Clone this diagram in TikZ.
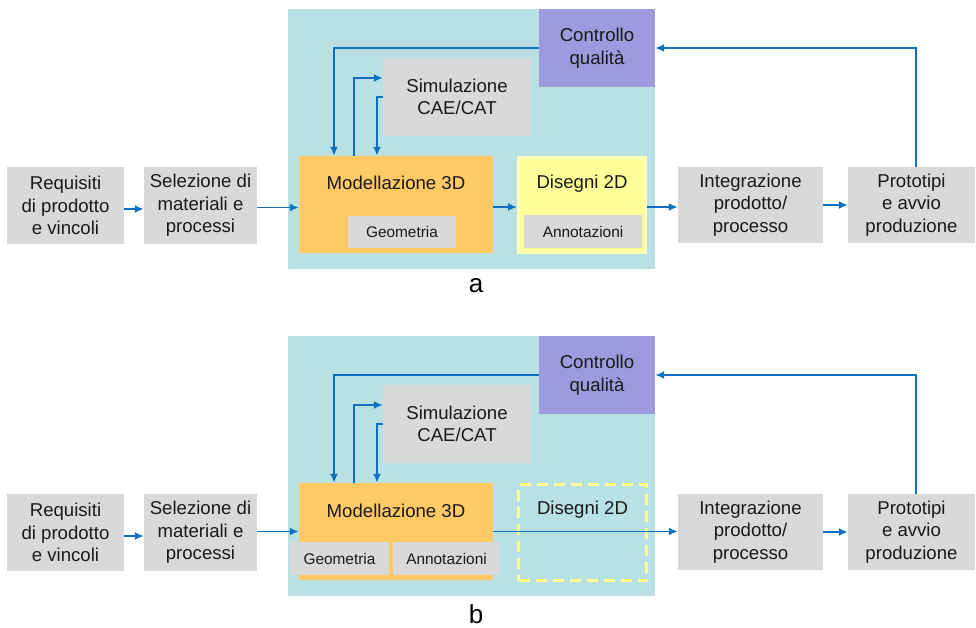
\documentclass[tikz,border=0pt]{standalone}
\usepackage{fontspec}
\setmainfont{Liberation Sans}
\usetikzlibrary{arrows.meta}

\definecolor{bgteal}{HTML}{B9E0E3}
\definecolor{boxgray}{HTML}{D9D9D9}
\definecolor{modorange}{HTML}{FFC966}
\definecolor{ctrlpurple}{HTML}{9E9ADE}
\definecolor{disyellow}{HTML}{FFFF99}
\definecolor{disedge}{HTML}{FFFFB8}
\definecolor{dashyellow}{HTML}{FFFF8C}
\definecolor{arrowblue}{HTML}{0F70C0}
\definecolor{textblack}{HTML}{1A1A1A}

\tikzset{
  grbox/.style={fill=boxgray, inner sep=0pt, align=center, text=textblack,
    font=\fontsize{18.6}{22.5}\selectfont},
  subbox/.style={fill=boxgray, inner sep=0pt, text=textblack,
    font=\fontsize{15.4}{18}\selectfont},
  boxtext/.style={inner sep=0pt, text=textblack, font=\fontsize{18.6}{22.5}\selectfont},
  flow/.style={draw=arrowblue, line width=1.8pt, -{Latex[length=9pt,width=8pt]}}
}

\begin{document}
\begin{tikzpicture}[x=1pt,y=-1pt]
\useasboundingbox (0,0) rectangle (976,628);

% panel a
\begin{scope}
  \fill[bgteal] (288,9) rectangle (655,269);
  \node[grbox, minimum width=117, minimum height=77] (reqa) at (65.5,205.5) {Requisiti\\di prodotto\\e vincoli};
  \node[grbox, minimum width=113, minimum height=77] (sela) at (200.5,205.5) {Selezione di\\materiali e\\processi};
  \node[fill=modorange, minimum width=194, minimum height=97, inner sep=0pt] (moda) at (396,204.5) {};
  \node[boxtext] (modta) at ([yshift=-27]moda.north) {Modellazione 3D};
  \node[subbox, minimum width=108, minimum height=32] (geoa) at (402,232) {Geometria};
  \node[fill=disyellow, draw=disedge, line width=3pt, minimum width=127, minimum height=94, inner sep=0pt] (disa) at (582,205) {};
  \node[boxtext] (densa) at ([yshift=-27]disa.north) {Disegni 2D};
  \node[subbox, minimum width=118, minimum height=33] (anna) at (583,231.5) {Annotazioni};
  \node[grbox, minimum width=148, minimum height=78] (sima) at (457,97) {Simulazione\\CAE/CAT};
  \node[grbox, fill=ctrlpurple, minimum width=116, minimum height=78] (ctrla) at (597,48) {Controllo\\qualità};
  \node[grbox, minimum width=145, minimum height=76] (inta) at (750.5,205) {Integrazione\\prodotto/\\processo};
  \node[grbox, minimum width=127, minimum height=76] (proa) at (911.5,205) {Prototipi\\e avvio\\produzione};

  \draw[flow] ([yshift=-3.5]reqa.east) -- ([yshift=-3.5]sela.west);
  \draw[flow] ([yshift=-2]sela.east) -- ([yshift=-2]sela.east -| moda.west);
  \draw[flow] ([yshift=-2.5]moda.east) -- ([yshift=-2.5]moda.east -| disa.west);
  \draw[flow] ([yshift=-2]disa.east) -- ([yshift=-2]disa.east -| inta.west);
  \draw[flow] (inta.east) -- (proa.west);
  \draw[flow] ([xshift=4.5]proa.north) |- (ctrla.east);
  \draw[flow] (ctrla.west) -| ([xshift=-62]moda.north);
  \draw[flow] ([xshift=-42]moda.north) |- ([yshift=19]sima.west);
  \draw[flow] (sima.west) -| ([xshift=-19]moda.north);

  \node[inner sep=0pt, font=\fontsize{26}{30}\selectfont] (laba) at (476,286) {a};
\end{scope}

% panel b
\begin{scope}[shift={(0,327)}]
  \fill[bgteal] (288,9) rectangle (655,269);
  \node[grbox, minimum width=117, minimum height=77] (reqb) at (65.5,205.5) {Requisiti\\di prodotto\\e vincoli};
  \node[grbox, minimum width=113, minimum height=77] (selb) at (200.5,205.5) {Selezione di\\materiali e\\processi};
  \node[fill=modorange, minimum width=194, minimum height=97, inner sep=0pt] (modb) at (396,204.5) {};
  \node[boxtext] (modtb) at ([yshift=-28]modb.north) {Modellazione 3D};
  \node[subbox, minimum width=99, minimum height=33] (geob) at (339.5,231.5) {Geometria};
  \node[subbox, minimum width=107, minimum height=33] (annb) at (446.5,231.5) {Annotazioni};
  \node[draw=dashyellow, line width=3pt, dash pattern=on 11pt off 6pt, minimum width=128, minimum height=96, inner sep=0pt] (disb) at (582.5,205.5) {};
  \node[boxtext] (densb) at ([yshift=-27]disb.north) {Disegni 2D};
  \node[grbox, minimum width=148, minimum height=78] (simb) at (457,97) {Simulazione\\CAE/CAT};
  \node[grbox, fill=ctrlpurple, minimum width=116, minimum height=78] (ctrlb) at (597,48) {Controllo\\qualità};
  \node[grbox, minimum width=145, minimum height=76] (intb) at (750.5,205) {Integrazione\\prodotto/\\processo};
  \node[grbox, minimum width=127, minimum height=76] (prob) at (911.5,205) {Prototipi\\e avvio\\produzione};

  \draw[flow] ([yshift=-3.5]reqb.east) -- ([yshift=-3.5]selb.west);
  \draw[flow] ([yshift=1]selb.east) -- ([yshift=1]selb.east -| modb.west);
  \draw[flow] (modb.east) -- (modb.east -| intb.west);
  \draw[flow] (intb.east) -- (prob.west);
  \draw[flow] ([xshift=4.5]prob.north) |- (ctrlb.east);
  \draw[flow] (ctrlb.west) -| ([xshift=-62]modb.north);
  \draw[flow] ([xshift=-42]modb.north) |- ([yshift=19]simb.west);
  \draw[flow] (simb.west) -| ([xshift=-19]modb.north);

  \node[inner sep=0pt, font=\fontsize{26}{30}\selectfont] (labb) at (476,287) {b};
\end{scope}
\end{tikzpicture}
\end{document}
